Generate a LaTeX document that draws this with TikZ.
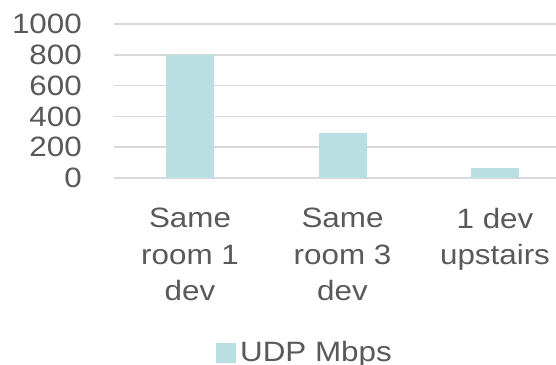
\documentclass[tikz,border=0pt]{standalone}
\usepackage{fontspec}
\setmainfont{Liberation Sans}[FakeStretch=1.12]
\usepackage{tikz}
\usetikzlibrary{positioning}
\definecolor{barteal}{HTML}{BADFE2}
\definecolor{gridgray}{HTML}{D9D9D9}
\definecolor{labelgray}{HTML}{595959}
\begin{document}
\begin{tikzpicture}[x=1pt,y=1pt,
    tick/.style={anchor=east,text=labelgray,inner sep=0pt,font=\fontsize{28}{30}\selectfont},
    cat/.style={anchor=north,align=center,text=labelgray,inner sep=0pt,font=\fontsize{28}{36.5}\selectfont},
    key/.style={fill=barteal,minimum size=20pt,inner sep=0pt}]
                \useasboundingbox (0,0) rectangle (556,364);
                % grid and axis values
                \foreach \v in {0,200,...,1000}{
                    \draw[gridgray,line width=1.5pt] (114,186+0.154*\v) -- (556,186+0.154*\v);
                    \node[tick] (t\v) at (82,186+0.154*\v) {\v};
                }
                % bars
                \foreach \c/\v in {190/800,342.5/290,495/65}
                    \fill[barteal] (\c-24,186) rectangle (\c+24,186+0.154*\v);
                \node[cat] (c1) at (190,156) {Same\\room 1\\dev};
                \node[cat] (c2) at (342.5,156) {Same\\room 3\\dev};
                \node[cat] (c3) at (495,156) {1 dev\\upstairs};
                %legend
                \node[key] (k) at (226,11) {};
                \node[anchor=base west,text=labelgray,inner sep=0pt,font=\fontsize{28}{30}\selectfont] (kt) at (240,2.5) {UDP Mbps};
            \end{tikzpicture}
\end{document}
